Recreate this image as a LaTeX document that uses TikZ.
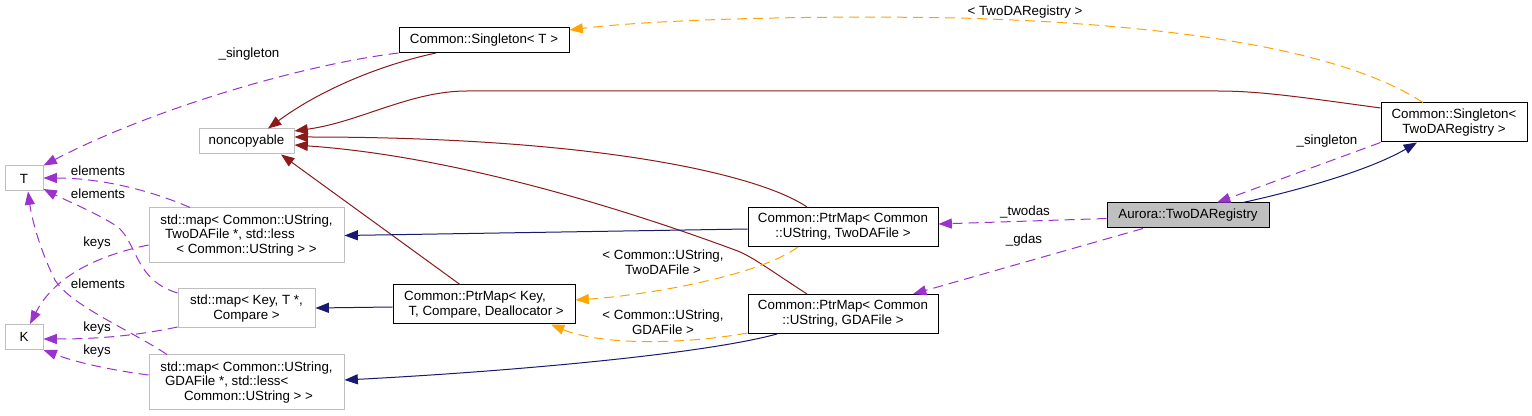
\documentclass[tikz,border=0pt]{standalone}
\usepackage{fontspec}
\setmainfont{Liberation Sans}
\usetikzlibrary{arrows.meta}
\definecolor{redfour}{HTML}{8B1A1A}
\definecolor{mblue}{HTML}{191970}
\definecolor{orchid}{HTML}{9A32CD}
\definecolor{orng}{HTML}{FFA500}
\definecolor{greyss}{HTML}{BFBFBF}
\begin{document}
\begin{tikzpicture}[x=0.75pt,y=-0.75pt,
  font=\fontsize{10}{11}\selectfont,
  docbox/.style={draw=black,line width=0.75pt,fill=white,inner sep=0pt,align=center},
  undoc/.style={draw=greyss,line width=0.75pt,fill=white,inner sep=0pt,align=center},
  lbl/.style={inner sep=0pt,align=center},
  tip/.style={-{Triangle[length=10pt,width=7.5pt]}},
  inh/.style={tip,draw=redfour,line width=0.75pt},
  usg/.style={tip,draw=mblue,line width=0.75pt},
  mem/.style={tip,draw=orchid,line width=0.75pt,dash pattern=on 7.5pt off 4.5pt},
  tpl/.style={tip,draw=orng,line width=0.75pt,dash pattern=on 7.5pt off 4.5pt},
  sglh/.style={minimum height=18.75pt},
  dblh/.style={minimum height=29.25pt},
  trph/.style={minimum height=41.25pt}]
\fill[white] (0,0) rectangle (1532,416);
\useasboundingbox (0,0) rectangle (1532,416);

% nodes
\node[docbox,sglh,minimum width=127.5pt] (sgT) at (484,40) {Common::Singleton< T >};
\node[undoc,sglh,minimum width=71.25pt] (nonc) at (246.5,141.5) {noncopyable};
\node[undoc,sglh,minimum width=28.5pt] (T) at (24,178.5) {T};
\node[undoc,sglh,minimum width=28.5pt] (K) at (24,337) {K};
\node[undoc,trph,minimum width=146.25pt,align=left] (mTwo) at (246.5,235.5)
  {std::map< Common::UString,\\\hspace*{3.5pt}TwoDAFile *, std::less\\\hspace*{12pt}< Common::UString > >};
\node[undoc,dblh,minimum width=102.75pt] (mKey) at (246.5,308.5) {std::map< Key, T *,\\Compare >};
\node[undoc,trph,minimum width=146.25pt,align=left] (mGDA) at (246.5,382.5)
  {std::map< Common::UString,\\\hspace*{3.5pt}GDAFile *, std::less<\\\hspace*{17.8pt}Common::UString > >};
\node[docbox,dblh,minimum width=136.5pt,align=left] (pKey) at (484,304.5)
  {Common::PtrMap< Key,\\\hspace*{3.2pt}T, Compare, Deallocator >};
\node[docbox,dblh,minimum width=142.5pt] (pTwo) at (843,227) {Common::PtrMap< Common\\::UString, TwoDAFile >};
\node[docbox,dblh,minimum width=142.5pt] (pGDA) at (843,314) {Common::PtrMap< Common\\::UString, GDAFile >};
\node[docbox,sglh,minimum width=121.5pt,fill=greyss] (aur) at (1188,215.5) {Aurora::TwoDARegistry};
\node[docbox,dblh,minimum width=109.5pt] (sgR) at (1454,122.5) {Common::Singleton<\\TwoDARegistry >};

% inheritance (red)
\draw[inh] ([shift={(-48,0)}]sgT.south) .. controls (380,65) and (320,90) .. ([shift={(21.5,0)}]nonc.north);
\draw[inh] ([shift={(0,-14.5)}]sgR.west) .. controls (1300,97) and (1260,91) .. (1217,91) -- (467,91)
  .. controls (410,91) and (360,122) .. ([shift={(0,-10.5)}]nonc.east);
\draw[inh] ([shift={(-36,0)}]pTwo.north) .. controls (760,175) and (600,137) .. ([shift={(0,-4.5)}]nonc.east);
\draw[inh] ([shift={(-36,0)}]pGDA.north) .. controls (770,270) and (750,255) .. (735,250)
  .. controls (600,200) and (440,155) .. ([shift={(0,3.5)}]nonc.east);
\draw[inh] ([shift={(-24,0)}]pKey.north) -- ([shift={(34.5,0)}]nonc.south);

% usage (blue)
\draw[usg] ([shift={(0,2)}]pTwo.west) -- (mTwo.east);
\draw[usg] ([shift={(0,2.5)}]pKey.west) -- ([shift={(0,-0.5)}]mKey.east);
\draw[usg] ([shift={(-66,0)}]pGDA.south) .. controls (700,355) and (500,372) .. ([shift={(0,-2.5)}]mGDA.east);
\draw[usg] ([shift={(55,0)}]aur.north) .. controls (1300,190) and (1370,170) .. ([shift={(-37,0)}]sgR.south);

% members (purple dashed)
\draw[mem] (sgT.south west) .. controls (300,65) and (150,110) .. (T.north east);
\draw[mem] ([shift={(-56.5,0)}]mTwo.north) .. controls (150,190) and (100,178) .. ([shift={(0,-0.5)}]T.east);
\draw[mem] ([shift={(0,-15.5)}]mKey.west) .. controls (135,280) and (138,245) .. (118,227)
  .. controls (95,212) and (65,200) .. ([shift={(0,10.5)}]T.east);
\draw[mem] ([shift={(-79.5,0)}]mGDA.north) .. controls (130,330) and (70,305) .. (55,280)
  .. controls (40,250) and (32,220) .. ([shift={(4,0)}]T.south);
\draw[mem] ([shift={(0,9.5)}]mTwo.west) .. controls (100,255) and (55,275) .. ([shift={(6,0)}]K.north);
\draw[mem] ([shift={(0,18.5)}]mKey.west) .. controls (130,337) and (90,339) .. ([shift={(0,2)}]K.east);
\draw[mem] ([shift={(0,-7.5)}]mGDA.west) .. controls (110,370) and (75,362) .. (K.south east);
\draw[mem] (sgR.south west) -- ([shift={(29,0)}]aur.north);
\draw[mem] ([shift={(0,3)}]aur.west) -- ([shift={(0,-3)}]pTwo.east);
\draw[mem] ([shift={(-45,0)}]aur.south) -- ([shift={(70,0)}]pGDA.north);

% template instances (orange dashed)
\draw[tpl] ([shift={(-31,0)}]sgR.north) .. controls (1350,55) and (1200,25) .. (960,18)
  .. controls (800,15) and (650,20) .. ([shift={(0,-10)}]sgT.east);
\draw[tpl] ([shift={(-45,0)}]pTwo.south) .. controls (760,275) and (650,295) .. ([shift={(0,-4.5)}]pKey.east);
\draw[tpl] ([shift={(0,19)}]pGDA.west) .. controls (680,345) and (600,345) .. ([shift={(67,0)}]pKey.south);

% labels
\node[lbl] (l1) at (249,54) {\_singleton};
\node[lbl] (l2) at (98,171) {elements};
\node[lbl] (l3) at (98,194) {elements};
\node[lbl] (l4) at (98,284) {elements};
\node[lbl] (l5) at (97,243) {keys};
\node[lbl] (l6) at (97,328) {keys};
\node[lbl] (l7) at (97,351) {keys};
\node[lbl] (l8) at (1327,141) {\_singleton};
\node[lbl] (l9) at (1025,212) {\_twodas};
\node[lbl] (l10) at (1024,240) {\_gdas};
\node[lbl] (l11) at (1025,12) {< TwoDARegistry >};
\node[lbl] (l12) at (663,262) {< Common::UString,\\TwoDAFile >};
\node[lbl] (l13) at (663,322) {< Common::UString,\\GDAFile >};
\end{tikzpicture}
\end{document}
